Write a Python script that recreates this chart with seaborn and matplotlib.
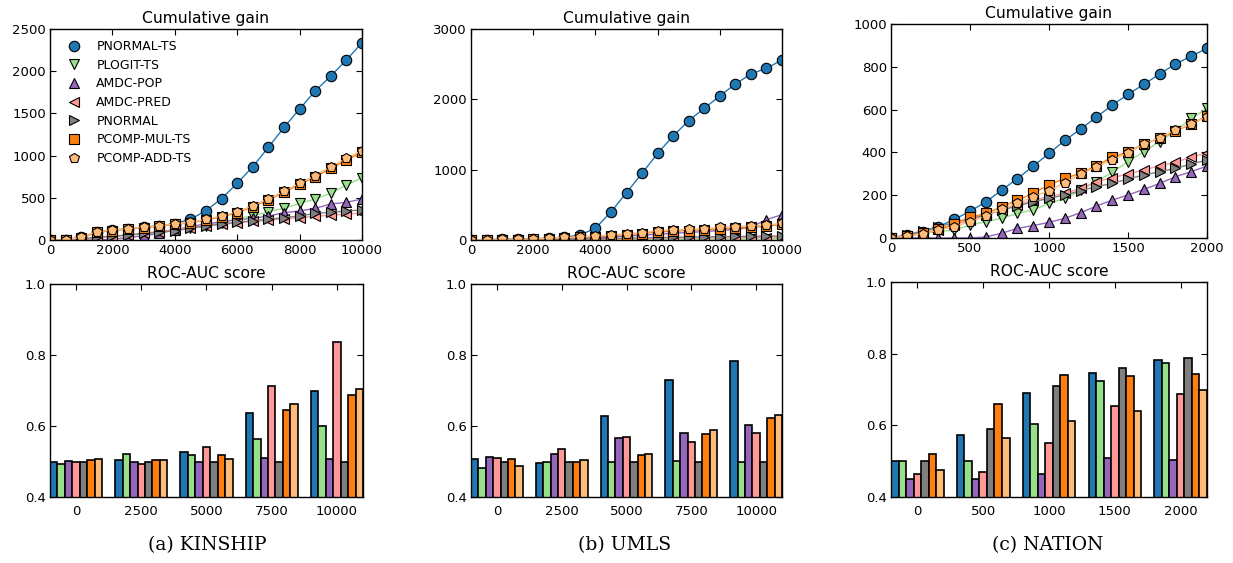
import numpy as np
import pandas as pd
import matplotlib
matplotlib.use("Agg")
import matplotlib.pyplot as plt
from matplotlib.lines import Line2D
import seaborn as sns

# ---------------- data ----------------
methods = ["PNORMAL-TS", "PLOGIT-TS", "AMDC-POP", "AMDC-PRED", "PNORMAL",
           "PCOMP-MUL-TS", "PCOMP-ADD-TS"]
colors = ["#1f77b4", "#98df8a", "#9467bd", "#ff9896", "#7f7f7f", "#ff7f0e", "#ffbb78"]
markers = ["o", "v", "^", "<", ">", "s", "p"]

x_kinship = list(range(0, 10001, 500))
x_umls = list(range(0, 10001, 500))
x_nation = list(range(0, 2001, 100))

gain_kinship = {
    "PNORMAL-TS":   [0, 3, 30, 95, 118, 132, 152, 168, 195, 245, 348, 490, 672, 869, 1098, 1335, 1552, 1766, 1943, 2133, 2338],
    "PLOGIT-TS":    [0, 0, 10, 25, 40, 55, 72, 90, 112, 138, 168, 205, 255, 284, 336, 375, 434, 486, 553, 652, 735],
    "AMDC-POP":     [0, 0, 0, 0, 10, 28, 51, 79, 118, 160, 190, 215, 240, 257, 284, 324, 344, 375, 427, 446, 486],
    "AMDC-PRED":    [0, 0, 5, 20, 40, 60, 80, 100, 125, 145, 165, 185, 205, 220, 235, 250, 265, 280, 295, 305, 320],
    "PNORMAL":      [0, 5, 16, 32, 47, 59, 79, 95, 111, 138, 166, 190, 209, 229, 245, 265, 284, 316, 328, 344, 356],
    "PCOMP-MUL-TS": [0, 0, 28, 92, 112, 128, 148, 165, 185, 205, 238, 275, 322, 395, 475, 565, 660, 748, 848, 945, 1040],
    "PCOMP-ADD-TS": [0, 0, 32, 99, 118, 134, 154, 170, 190, 209, 245, 284, 332, 407, 486, 577, 672, 762, 869, 968, 1060],
}
gain_umls = {
    "PNORMAL-TS":   [0, 5, 10, 15, 20, 25, 38, 71, 166, 398, 673, 948, 1232, 1479, 1697, 1872, 2048, 2218, 2360, 2441, 2560],
    "PLOGIT-TS":    [0, 0, 0, 1, 1, 2, 3, 4, 5, 6, 7, 8, 9, 10, 11, 12, 13, 14, 15, 16, 17],
    "AMDC-POP":     [0, 0, 2, 4, 6, 10, 15, 22, 30, 42, 55, 68, 82, 95, 108, 120, 135, 150, 180, 290, 360],
    "AMDC-PRED":    [0, 0, 1, 2, 3, 5, 8, 10, 12, 15, 18, 20, 22, 25, 27, 28, 30, 32, 33, 35, 37],
    "PNORMAL":      [0, 1, 2, 4, 6, 9, 12, 15, 18, 22, 26, 30, 34, 38, 42, 45, 48, 50, 52, 55, 57],
    "PCOMP-MUL-TS": [3, 3, 6, 7, 10, 18, 30, 38, 45, 60, 78, 92, 115, 125, 135, 145, 160, 170, 180, 195, 225],
    "PCOMP-ADD-TS": [5, 5, 9, 9, 14, 24, 38, 45, 55, 71, 90, 104, 133, 142, 152, 161, 180, 190, 199, 213, 237],
}
gain_nation = {
    "PNORMAL-TS":   [0, 14, 30, 53, 87, 125, 168, 224, 277, 336, 395, 456, 509, 565, 621, 671, 718, 766, 813, 850, 886],
    "PLOGIT-TS":    [0, 10, 22, 30, 37, 61, 76, 92, 115, 131, 162, 185, 224, 263, 307, 357, 403, 450, 500, 559, 606],
    "AMDC-POP":     [0, 0, 0, 0, 0, 0, 5, 22, 45, 58, 73, 92, 118, 149, 177, 201, 227, 255, 286, 310, 336],
    "AMDC-PRED":    [0, 9, 22, 37, 61, 84, 107, 131, 154, 177, 193, 209, 232, 263, 282, 299, 318, 338, 353, 380, 395],
    "PNORMAL":      [0, 14, 33, 53, 72, 92, 107, 131, 149, 170, 185, 201, 221, 240, 255, 276, 294, 310, 325, 346, 364],
    "PCOMP-MUL-TS": [0, 9, 22, 40, 65, 97, 115, 146, 177, 209, 248, 279, 302, 338, 377, 403, 439, 466, 500, 532, 571],
    "PCOMP-ADD-TS": [0, 9, 19, 37, 53, 76, 103, 134, 162, 193, 221, 258, 299, 333, 364, 399, 437, 469, 504, 532, 567],
}

groups_kinship = ["0", "2500", "5000", "7500", "10000"]
groups_umls = ["0", "2500", "5000", "7500", "10000"]
groups_nation = ["0", "500", "1000", "1500", "2000"]

# rows: groups, columns: methods (same order as `methods`)
auc_kinship = [
    [0.500, 0.493, 0.501, 0.500, 0.500, 0.503, 0.508],
    [0.504, 0.520, 0.500, 0.493, 0.500, 0.505, 0.505],
    [0.526, 0.518, 0.500, 0.542, 0.500, 0.518, 0.508],
    [0.638, 0.562, 0.510, 0.714, 0.500, 0.646, 0.662],
    [0.700, 0.601, 0.506, 0.837, 0.500, 0.687, 0.704],
]
auc_umls = [
    [0.507, 0.482, 0.513, 0.509, 0.500, 0.507, 0.487],
    [0.497, 0.500, 0.522, 0.536, 0.500, 0.498, 0.505],
    [0.629, 0.500, 0.565, 0.570, 0.500, 0.517, 0.520],
    [0.729, 0.502, 0.580, 0.555, 0.500, 0.577, 0.588],
    [0.783, 0.500, 0.602, 0.580, 0.500, 0.623, 0.632],
]
auc_nation = [
    [0.500, 0.500, 0.451, 0.464, 0.500, 0.520, 0.476],
    [0.573, 0.501, 0.451, 0.470, 0.589, 0.660, 0.566],
    [0.689, 0.604, 0.464, 0.551, 0.710, 0.741, 0.611],
    [0.747, 0.724, 0.508, 0.653, 0.759, 0.737, 0.640],
    [0.783, 0.775, 0.504, 0.688, 0.789, 0.742, 0.700],
]

captions = ["(a) KINSHIP", "(b) UMLS", "(c) NATION"]

# ---------------- style ----------------
sns.set_style("ticks")
plt.rcParams.update({
    "font.family": ["DejaVu Sans"],
    "text.color": "black", "axes.labelcolor": "black", "axes.titlecolor": "black",
    "xtick.direction": "in", "ytick.direction": "in",
    "xtick.top": True, "ytick.right": True,
    "xtick.major.size": 4, "ytick.major.size": 4,
    "xtick.major.width": 0.8, "ytick.major.width": 0.8,
    "axes.linewidth": 1.0, "axes.edgecolor": "black",
    "xtick.color": "black", "ytick.color": "black",
    "xtick.labelcolor": "black", "ytick.labelcolor": "black",
    "xtick.labelsize": 9.5, "ytick.labelsize": 9.5,
    "xtick.major.pad": 3, "ytick.major.pad": 3,
})

W, H = 1233, 563
fig = plt.figure(figsize=(W / 100, H / 100), dpi=100, facecolor="white")


def rect(x0, x1, y0, y1):
    return [x0 / W, 1 - y1 / H, (x1 - x0) / W, (y1 - y0) / H]


top_rects = [rect(50, 362, 29, 240), rect(471, 782, 29, 240), rect(891, 1207, 24, 238)]
bot_rects = [rect(50, 363, 284, 497), rect(471, 782, 284, 497), rect(891, 1207, 282, 497)]

tops = [(x_kinship, gain_kinship, 2500, np.arange(0, 2501, 500), np.arange(0, 10001, 2000)),
        (x_umls, gain_umls, 3000, np.arange(0, 3001, 1000), np.arange(0, 10001, 2000)),
        (x_nation, gain_nation, 1000, np.arange(0, 1001, 200), np.arange(0, 2001, 500))]
bots = [(groups_kinship, auc_kinship), (groups_umls, auc_umls), (groups_nation, auc_nation)]

for i in range(3):
    xs, gains, ymax, yt, xt = tops[i]
    ax = fig.add_axes(top_rects[i])
    for m, c, mk in zip(methods, colors, markers):
        sns.lineplot(x=xs, y=gains[m], ax=ax, color=c, linewidth=1.0,
                     marker=mk, markersize=7.5, markeredgecolor="black",
                     markeredgewidth=0.8, legend=False)
    ax.set_xlim(xs[0], xs[-1])
    ax.set_ylim(0, ymax)
    ax.set_yticks(yt)
    ax.set_xticks(xt)
    ax.set_title("Cumulative gain", fontsize=11.2, pad=4, color="black")
    ax.set_xlabel("")
    ax.set_ylabel("")
    if i == 0:
        handles = [Line2D([], [], linestyle="none", marker=mk, color=c,
                          markeredgecolor="black", markeredgewidth=0.8, markersize=7.5)
                   for c, mk in zip(colors, markers)]
        leg = ax.legend(handles, methods, loc="upper left", frameon=False, fontsize=9,
                        handlelength=2.0, handletextpad=0.8, labelspacing=0.45,
                        borderaxespad=0.5)
        for t in leg.get_texts():
            t.set_color("black")

    groups, auc = bots[i]
    rows = []
    for g, vals in zip(groups, auc):
        for m, v in zip(methods, vals):
            rows.append({"group": g, "method": m, "value": v})
    df = pd.DataFrame(rows)
    bx = fig.add_axes(bot_rects[i])
    sns.barplot(data=df, x="group", y="value", hue="method", order=groups,
                hue_order=methods, palette=colors, saturation=1,
                edgecolor="black", linewidth=1.2, width=0.8, ax=bx, legend=False)
    bx.set_xlim(-0.4, len(groups) - 0.6)
    bx.set_ylim(0.4, 1.0)
    bx.set_yticks([0.4, 0.6, 0.8, 1.0])
    bx.set_yticklabels(["0.4", "0.6", "0.8", "1.0"])
    bx.set_title("ROC-AUC score", fontsize=11.2, pad=4, color="black")
    bx.set_xlabel("")
    bx.set_ylabel("")
    bx.tick_params(axis="x", pad=6)

cap_x = [207, 625, 1048]
for cx, cap in zip(cap_x, captions):
    fig.text(cx / W, 1 - 545 / H, cap, ha="center", va="center",
             fontsize=13.5, family=["DejaVu Serif"], color="black")

fig.savefig("out.png", dpi=100, facecolor="white")
